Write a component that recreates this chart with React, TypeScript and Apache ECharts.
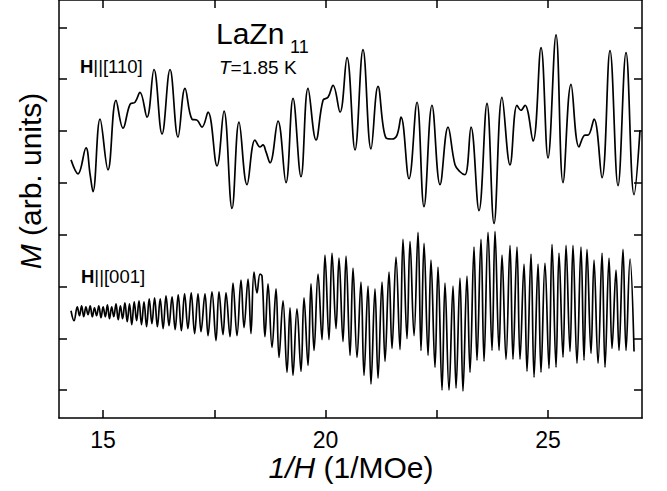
import React, { useEffect, useRef } from "react";
import * as echarts from "echarts";

// axis ticks (1/H in 1/MOe; magnetization in arbitrary units)
const xTickValues = [15, 17.5, 20, 22.5, 25];
const xLabelValues = [15, 20, 25];
const yTickValues = [0, 1, 2, 3, 4, 5, 6, 7];
const xMin = 14.011;
const xMax = 27.112;
const yMin = -0.536;
const yMax = 7.529;

// H || [110] trace: [1/H, M]
const trace110: [number, number][] = [
  [14.281, 4.444], [14.438, 4.176], [14.618, 4.674], [14.708, 4.176], [14.775, 3.831],
  [14.933, 5.23], [15.112, 4.253], [15.292, 5.594], [15.449, 5.057], [15.607, 5.517],
  [15.719, 5.556], [15.831, 5.747], [15.989, 5.268], [16.146, 6.188], [16.326, 4.943],
  [16.506, 6.188], [16.685, 4.885], [16.843, 5.824], [17.0, 5.23], [17.112, 5.211],
  [17.225, 5.077], [17.36, 5.364], [17.562, 4.33], [17.719, 5.383], [17.899, 3.506],
  [18.056, 5.172], [18.236, 3.966], [18.416, 4.828], [18.528, 4.693], [18.595, 4.732],
  [18.663, 4.598], [18.753, 4.387], [18.933, 5.192], [19.112, 4.004], [19.27, 5.632],
  [19.449, 4.119], [19.607, 5.824], [19.787, 4.828], [19.944, 5.594], [20.056, 5.651],
  [20.169, 5.881], [20.326, 5.364], [20.483, 6.418], [20.663, 4.636], [20.843, 6.571],
  [21.022, 4.655], [21.18, 5.862], [21.36, 4.866], [21.494, 4.847], [21.607, 4.923],
  [21.697, 5.268], [21.876, 4.08], [22.056, 5.556], [22.213, 3.544], [22.393, 5.498],
  [22.573, 3.966], [22.753, 5.077], [22.91, 4.349], [23.022, 4.215], [23.135, 4.157],
  [23.27, 5.077], [23.449, 3.467], [23.629, 5.536], [23.787, 3.218], [23.966, 5.651],
  [24.146, 4.349], [24.303, 5.498], [24.393, 5.402], [24.483, 5.498], [24.663, 4.808],
  [24.843, 6.609], [25.0, 4.483], [25.18, 6.858], [25.337, 4.004], [25.517, 5.9],
  [25.697, 4.693], [25.831, 4.923], [25.899, 4.923], [26.034, 5.23], [26.213, 4.1],
  [26.393, 6.552], [26.573, 3.946], [26.753, 6.513], [26.933, 3.774], [27.067, 5.019],
];

// H || [001] trace: [1/H, M]
const trace001: [number, number][] = [
  [14.281, 1.533], [14.348, 1.341], [14.422, 1.609], [14.471, 1.437], [14.519, 1.628],
  [14.568, 1.418], [14.616, 1.609], [14.663, 1.456], [14.712, 1.628], [14.76, 1.418],
  [14.809, 1.59], [14.856, 1.437], [14.906, 1.628], [14.955, 1.398], [15.003, 1.609],
  [15.052, 1.418], [15.099, 1.648], [15.146, 1.379], [15.195, 1.609], [15.242, 1.418],
  [15.292, 1.667], [15.341, 1.36], [15.391, 1.628], [15.44, 1.379], [15.492, 1.686],
  [15.544, 1.322], [15.595, 1.667], [15.647, 1.264], [15.701, 1.705], [15.755, 1.341],
  [15.809, 1.724], [15.865, 1.264], [15.921, 1.705], [15.979, 1.226], [16.038, 1.762],
  [16.099, 1.284], [16.159, 1.782], [16.222, 1.226], [16.285, 1.762], [16.351, 1.188],
  [16.416, 1.82], [16.483, 1.245], [16.551, 1.801], [16.621, 1.169], [16.69, 1.839],
  [16.761, 1.149], [16.833, 1.858], [16.908, 1.188], [16.982, 1.877], [17.058, 1.092],
  [17.135, 1.858], [17.202, 1.13], [17.292, 1.858], [17.36, 1.054], [17.449, 1.897],
  [17.539, 0.958], [17.606, 1.897], [17.696, 1.073], [17.764, 1.877], [17.854, 1.034],
  [17.921, 2.069], [18.011, 1.054], [18.101, 2.126], [18.169, 1.207], [18.259, 2.146],
  [18.325, 1.092], [18.393, 2.28], [18.46, 1.877], [18.528, 2.241], [18.573, 2.203],
  [18.64, 1.034], [18.708, 2.05], [18.798, 0.824], [18.888, 1.954], [18.955, 0.632],
  [19.045, 1.724], [19.135, 0.345], [19.202, 1.59], [19.269, 0.287], [19.359, 1.571],
  [19.449, 0.364], [19.517, 1.782], [19.607, 0.479], [19.674, 2.05], [19.742, 0.766],
  [19.832, 2.241], [19.921, 0.977], [19.988, 2.605], [20.078, 0.977], [20.146, 2.644],
  [20.236, 1.188], [20.303, 2.548], [20.393, 0.939], [20.461, 2.586], [20.551, 0.67],
  [20.618, 2.356], [20.708, 0.632], [20.797, 2.088], [20.865, 0.287], [20.955, 2.011],
  [21.022, 0.115], [21.112, 1.954], [21.18, 0.23], [21.27, 2.088], [21.337, 0.556],
  [21.427, 2.28], [21.494, 0.805], [21.584, 2.567], [21.674, 0.785], [21.741, 2.912],
  [21.831, 0.996], [21.899, 2.874], [21.989, 1.054], [22.079, 3.046], [22.146, 0.766],
  [22.214, 2.835], [22.304, 0.67], [22.37, 2.51], [22.46, 0.441], [22.528, 2.375],
  [22.618, 0.0], [22.685, 2.069], [22.775, 0.0], [22.865, 2.011], [22.933, 0.038],
  [23.022, 2.165], [23.089, -0.019], [23.179, 2.203], [23.247, 0.345], [23.337, 2.759],
  [23.404, 0.575], [23.494, 2.912], [23.562, 0.556], [23.652, 3.046], [23.742, 0.766],
  [23.809, 3.065], [23.899, 0.766], [23.966, 2.605], [24.056, 0.594], [24.146, 2.797],
  [24.213, 0.594], [24.303, 2.759], [24.371, 0.594], [24.461, 2.433], [24.528, 0.364],
  [24.618, 2.625], [24.686, 0.249], [24.776, 2.433], [24.842, 0.345], [24.932, 2.452],
  [25.022, 0.421], [25.09, 2.816], [25.18, 0.441], [25.247, 2.644], [25.337, 0.632],
  [25.405, 2.797], [25.494, 0.747], [25.561, 2.797], [25.651, 0.517], [25.741, 2.759],
  [25.809, 0.575], [25.876, 2.72], [25.966, 0.709], [26.034, 2.51], [26.124, 0.517],
  [26.214, 2.644], [26.281, 0.441], [26.371, 2.548], [26.438, 0.805], [26.528, 2.318],
  [26.595, 0.766], [26.685, 2.72], [26.753, 0.766], [26.843, 2.529], [26.933, 0.747],
];

const FONT = "'Liberation Sans', Arial, Helvetica, sans-serif";

export default function App() {
  const ref = useRef<HTMLDivElement>(null);

  useEffect(() => {
    const chart = echarts.init(ref.current!, null, { renderer: "svg" });
    const line = { show: true, onZero: false, lineStyle: { color: "#000", width: 1.5 } };
    const xTick = { show: true, inside: true, length: 8, lineStyle: { color: "#000", width: 1.5 }, customValues: xTickValues };
    const yTick = { show: true, inside: true, length: 8, lineStyle: { color: "#000", width: 1.5 }, customValues: yTickValues };
    const txt = (x: number, y: number, text: string, size: number, extra: any = {}) => ({
      type: "text",
      x,
      y,
      silent: true,
      ...extra,
      style: {
        text,
        fill: "#000",
        fontSize: size,
        fontFamily: FONT,
        align: extra.align || "left",
        verticalAlign: "middle",
        textAlign: extra.align || "left",
        textVerticalAlign: "middle",
        rich: {
          i: { fontStyle: "italic", fontSize: size, fontFamily: FONT, fill: "#000" },
          b: { fontWeight: "bold", fontSize: size, fontFamily: FONT, fill: "#000" },
        },
      },
    });

    chart.setOption({
      animation: false,
      backgroundColor: "#fff",
      grid: { left: 59, right: 25, top: -3, bottom: 73, containLabel: false },
      xAxis: [
        {
          type: "value", min: xMin, max: xMax, position: "bottom",
          axisLine: line, axisTick: xTick,
          axisLabel: { customValues: xLabelValues, fontSize: 23, color: "#000", fontFamily: FONT, margin: 10 },
          splitLine: { show: false },
        },
        {
          type: "value", min: xMin, max: xMax, position: "top",
          axisLine: line, axisTick: xTick, axisLabel: { show: false }, splitLine: { show: false },
        },
      ],
      yAxis: [
        {
          type: "value", min: yMin, max: yMax, position: "left",
          axisLine: line, axisTick: yTick, axisLabel: { show: false }, splitLine: { show: false },
        },
        {
          type: "value", min: yMin, max: yMax, position: "right",
          axisLine: line, axisTick: yTick, axisLabel: { show: false }, splitLine: { show: false },
        },
      ],
      series: [
        {
          type: "line", name: "H||[110]", data: trace110, xAxisIndex: 0, yAxisIndex: 0,
          symbol: "none", smooth: 0.4, lineStyle: { color: "#000", width: 1.7 }, silent: true,
        },
        {
          type: "line", name: "H||[001]", data: trace001, xAxisIndex: 0, yAxisIndex: 0,
          symbol: "none", smooth: 0.4, lineStyle: { color: "#000", width: 1.7 }, silent: true,
        },
      ],
      graphic: [
        txt(216, 33, "LaZn", 30),
        txt(290, 47, "11", 18),
        txt(219, 67, "{i|T}=1.85 K", 19),
        txt(80, 66, "{b|H}||[110]", 18.5),
        txt(81, 276, "{b|H}||[001]", 18.5),
        txt(351, 467, "{i|1/H} (1/MOe)", 30, { align: "center" }),
        txt(30, 181, "{i|M} (arb. units)", 30, { align: "center", rotation: Math.PI / 2 }),
      ],
    });
    return () => chart.dispose();
  }, []);

  return <div ref={ref} style={{ position: "fixed", left: 0, top: 0, width: 667, height: 491 }} />;
}
